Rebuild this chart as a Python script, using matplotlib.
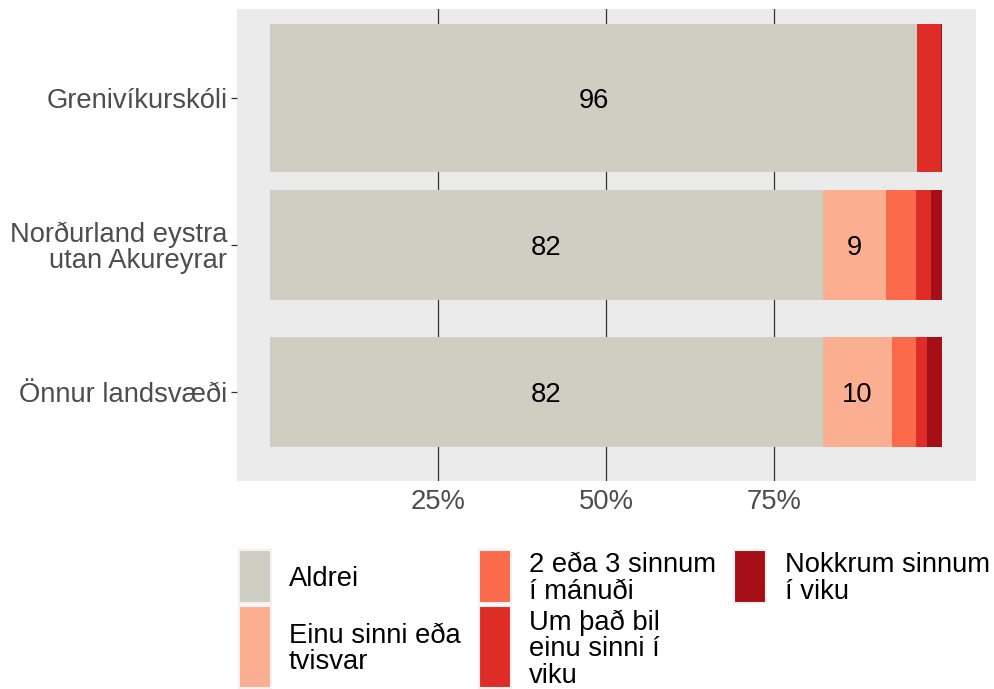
import matplotlib
matplotlib.use("Agg")
import matplotlib.pyplot as plt
from matplotlib.patches import Rectangle

plt.rcParams['font.family'] = ['Liberation Sans', 'DejaVu Sans']

# Data: share of answers (%) per region
regions = ["Önnur landsvæði", "Norðurland eystra\nutan Akureyrar", "Grenivíkurskóli"]
bar_heights = [0.75, 0.75, 1.0]
answers = ["Aldrei", "Einu sinni eða\ntvisvar", "2 eða 3 sinnum\ní mánuði",
           "Um það bil\neinu sinni í\nviku", "Nokkrum sinnum\ní viku"]
colors = ["#CECEC2", "#FCAE91", "#FB6A4A", "#DE2D26", "#A50F15"]
values = {
    "Aldrei":        [82.3, 82.3, 96.3],
    "Einu sinni":    [10.3, 9.4, 0.0],
    "2 eða 3":       [3.6, 4.5, 0.0],
    "Um það bil":    [1.6, 2.1, 3.6],
    "Nokkrum":       [2.2, 1.7, 0.1],
}
x_ticks = [25, 50, 75]
x_tick_labels = ["25%", "50%", "75%"]
label_min = 5  # segments smaller than this get no value label

FS = 19.7
W, H = 995, 689
fig = plt.figure(figsize=(W / 100, H / 100), dpi=100)
ax = fig.add_axes([237 / W, (H - 481) / H, (976 - 237) / W, (481 - 9) / H])
ax.set_facecolor("#EBEBEB")

ypos = list(range(1, len(regions) + 1))
left = [0.0] * len(regions)
for (key, vals), col in zip(values.items(), colors):
    ax.barh(ypos, vals, left=left, height=bar_heights, color=col,
            edgecolor="none", zorder=2)
    for y, v, l in zip(ypos, vals, left):
        if v >= label_min:
            ax.text(l + v / 2, y, f"{round(v)}", ha="center", va="center_baseline",
                    fontsize=FS, color="black", zorder=3)
    left = [a + b for a, b in zip(left, vals)]

ax.set_xlim(-4.91, 105.06)
ax.set_ylim(0.397, 3.605)
ax.set_xticks(x_ticks)
ax.set_xticklabels(x_tick_labels)
ax.set_yticks(ypos)
ax.set_yticklabels(regions, linespacing=1.0)
ax.grid(axis="x", color="#333333", linewidth=0.9, zorder=1)
ax.set_axisbelow(True)
for s in ax.spines.values():
    s.set_visible(False)
ax.tick_params(axis="x", length=0, pad=6, labelsize=FS, labelcolor="#4D4D4D")
ax.tick_params(axis="y", length=4, width=0.9, color="#333333", pad=3,
               labelsize=FS, labelcolor="#4D4D4D")

# Legend drawn in figure pixel coordinates
def box(x0, y0, x1, y1, col):
    fig.patches.append(Rectangle((x0 / W, 1 - y1 / H), (x1 - x0) / W, (y1 - y0) / H,
                                 transform=fig.transFigure, facecolor=col,
                                 edgecolor="#F2F2F2", linewidth=1.5))

col_key_x = [239, 479, 734]
col_text_x = [289, 529, 785]
row_y = [(550, 603), (606, 688)]
layout = [(0, 0), (0, 1), (1, 0), (1, 1), (2, 0)]
for (c, r), lab, col in zip(layout, answers, colors):
    y0, y1 = row_y[r]
    box(col_key_x[c], y0, col_key_x[c] + 32, y1, col)
    fig.text(col_text_x[c] / W, 1 - ((y0 + y1) / 2 + 2) / H, lab, ha="left",
             va="center", fontsize=FS, color="black", linespacing=1.02)

fig.savefig("out.png", dpi=100)
